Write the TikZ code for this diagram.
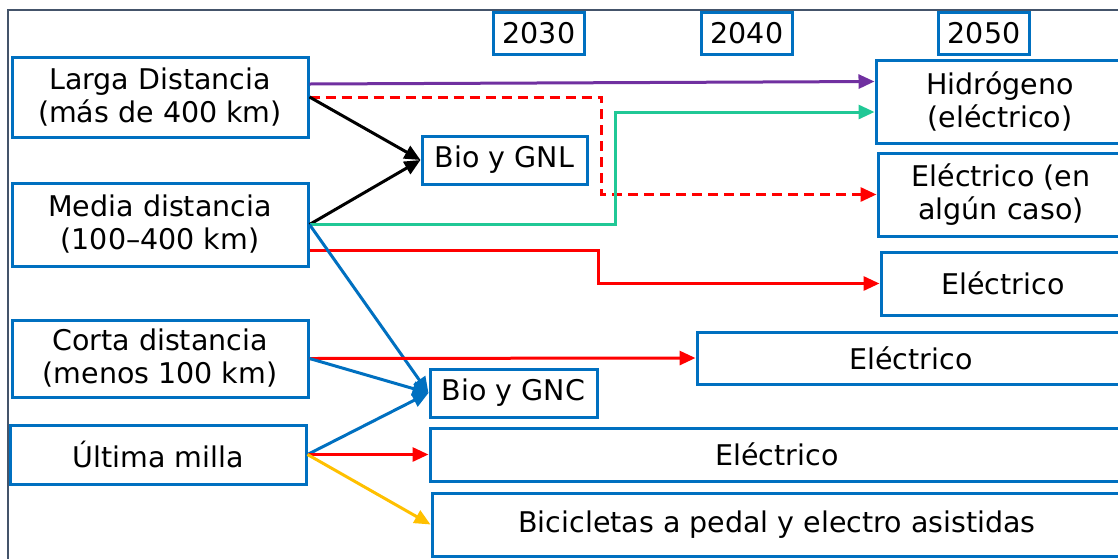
\documentclass[tikz,border=0pt]{standalone}
\usepackage{fontspec}
\setmainfont{DejaVu Sans}
\usetikzlibrary{arrows.meta, positioning, calc}
\definecolor{boxblue}{RGB}{0, 112, 192}
\definecolor{framegray}{RGB}{68, 84, 106}
\definecolor{h2purple}{RGB}{112, 48, 160}
\definecolor{h2teal}{RGB}{32, 200, 150}
\definecolor{bikeyellow}{RGB}{255, 192, 0}
\definecolor{elecred}{RGB}{255, 0, 0}

\begin{document}
\begin{tikzpicture}[x=1pt, y=-1pt,
    box/.style={draw=boxblue, line width=3pt, fill=white, align=center, inner sep=0pt,
                font=\fontsize{28.5}{33}\selectfont},
    yearbox/.style={box, minimum width=91pt, minimum height=42pt},
    link/.style={line width=3pt, -{Triangle[length=16pt, width=14pt]}}]
                \useasboundingbox (0,0) rectangle (1118,558);

                % Outer frame
                \draw[framegray, line width=2pt] (8,580) -- (8,10) -- (1130,10);

                % Years
                \node[yearbox] (y2030) at (539,33) {2030};
                \node[yearbox] (y2040) at (747,33) {2040};
                \node[yearbox] (y2050) at (984,33) {2050};

                % Transport segments
                \node[box, minimum width=296pt, minimum height=80pt] (larga) at (160,97) {Larga Distancia\\(más de 400 km)};
                \node[box, minimum width=296pt, minimum height=83pt] (media) at (160,224.5) {Media distancia\\(100--400 km)};
                \node[box, minimum width=296pt, minimum height=77pt] (corta) at (160,358.5) {Corta distancia\\(menos 100 km)};
                \node[box, minimum width=296pt, minimum height=59pt] (ultima) at (158,454.5) {Última milla};

                % Intermediate fuels
                \node[box, minimum width=165pt, minimum height=48pt] (biognl) at (504.5,160) {Bio y GNL};
                \node[box, minimum width=167pt, minimum height=48pt] (biognc) at (513.5,393) {Bio y GNC};

                % Final technologies
                \node[box, minimum width=248pt, minimum height=83pt] (hidro) at (1000,101.5) {Hidrógeno\\(eléctrico)};
                \node[box, minimum width=246pt, minimum height=83pt] (encaso) at (1001,194.5) {Eléctrico (en\\algún caso)};
                \node[box, minimum width=244pt, minimum height=63pt] (elecmedia) at (1003,283.5) {Eléctrico};
                \node[box, minimum width=428pt, minimum height=52pt] (eleccorta) at (911,358) {Eléctrico};
                \node[box, minimum width=694pt, minimum height=53pt] (elecult) at (777,454.5) {Eléctrico};
                \node[box, minimum width=690pt, minimum height=63pt] (bici) at (777,524.5) {Bicicletas a pedal y electro asistidas};

                % Arrows
                \draw[link, h2purple] ([yshift=13pt]larga.east) -- ([yshift=20pt]hidro.west);
                \draw[link, elecred, dash pattern=on 10pt off 6pt] (larga.east) -- ++(292,0) |- (encaso.west);
                \draw[link, black] (larga.east) -- (biognl.west);
                \draw[link, black] (media.east) -- (biognl.west);
                \draw[link, h2teal] (media.east) -- ++(306,0) |- ([yshift=-10.5pt]hidro.west);
                \draw[link, elecred] ([yshift=-25.5pt]media.east) -- ++(289,0) |- (elecmedia.west);
                \draw[link, boxblue] (media.east) -- (biognc.west);
                \draw[link, elecred] (corta.east) -- (eleccorta.west);
                \draw[link, boxblue] (corta.east) -- (biognc.west);
                \draw[link, boxblue] (ultima.east) -- (biognc.west);
                \draw[link, elecred] (ultima.east) -- (elecult.west);
                \draw[link, bikeyellow] (ultima.east) -- (bici.west);
            \end{tikzpicture}
\end{document}
